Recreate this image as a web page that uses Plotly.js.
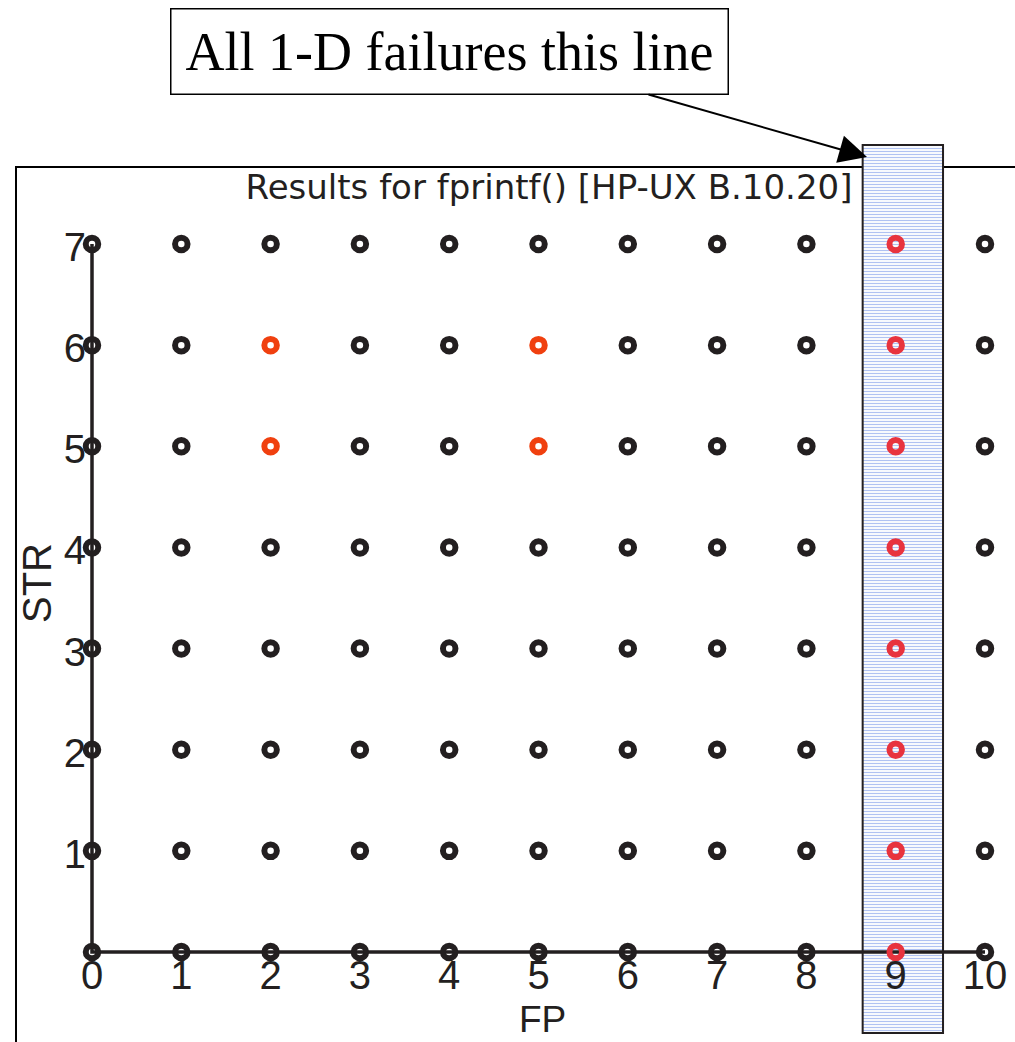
<!DOCTYPE html>
<html>
<head>
<meta charset="utf-8">
<script src="https://cdn.plot.ly/plotly-3.0.1.min.js"></script>
<style>html,body{margin:0;padding:0;background:#fff;}</style>
</head>
<body>
<div id="chart" style="width:1015px;height:1042px;"></div>
<script>
// ---- data ----
const fpValues = [0, 1, 2, 3, 4, 5, 6, 7, 8, 9, 10];
const strValues = [0, 1, 2, 3, 4, 5, 6, 7];
const xTickLabels = ['0', '1', '2', '3', '4', '5', '6', '7', '8', '9', '10'];
const yTickValues = [1, 2, 3, 4, 5, 6, 7];
const yTickLabels = ['1', '2', '3', '4', '5', '6', '7'];
const failFP2D = [2, 2, 5, 5];
const failSTR2D = [5, 6, 5, 6];
const failFP1D = 9;
const chartTitle = 'Results for fprintf() [HP-UX B.10.20]';
const xTitle = 'FP';
const yTitle = 'STR';
const calloutText = 'All 1-D failures this line';

// ---- build point groups ----
const okX = [], okY = [], f2X = [], f2Y = [], f1X = [], f1Y = [];
fpValues.forEach(fp => {
  strValues.forEach(s => {
    let is2D = false;
    for (let i = 0; i < failFP2D.length; i++) if (failFP2D[i] === fp && failSTR2D[i] === s) is2D = true;
    if (fp === failFP1D) { f1X.push(fp); f1Y.push(s); }
    else if (is2D) { f2X.push(fp); f2Y.push(s); }
    else { okX.push(fp); okY.push(s); }
  });
});

const ink = '#231f20';
const W = 1015, H = 1042;
const px2x = p => (p - 92) / 89.3;
const py2y = p => (952 - p) / 101.14;

const ring = (c) => ({ symbol: 'circle-open', size: 12.5, color: c, line: { width: 6, color: c } });

const traces = [
  { // shaded 1-D failure column
    type: 'bar', x: [failFP1D], y: [py2y(145) - py2y(1033)], base: [py2y(1033)],
    width: [0.9], offset: [-0.37],
    marker: { color: 'white', line: { color: ink, width: 2 },
      pattern: { shape: '-', fgcolor: '#b0c2f2', bgcolor: 'white', size: 3, solidity: 0.4 } },
    hoverinfo: 'skip', showlegend: false
  },
  { // axis lines
    type: 'scatter', mode: 'lines', x: [fpValues[fpValues.length - 1], 0, 0], y: [0, 0, strValues[strValues.length - 1]],
    line: { color: ink, width: 3.5 }, hoverinfo: 'skip', showlegend: false, cliponaxis: false
  },
  { type: 'scatter', mode: 'markers', x: okX, y: okY, marker: ring(ink), showlegend: false, cliponaxis: false },
  { type: 'scatter', mode: 'markers', x: f2X, y: f2Y, marker: ring('#f0400f'), showlegend: false, cliponaxis: false },
  { type: 'scatter', mode: 'markers', x: f1X, y: f1Y, marker: ring('#e8333e'), showlegend: false, cliponaxis: false }
];

const tickFont = { family: 'Liberation Sans, Arial, sans-serif', size: 40, color: ink };

const layout = {
  width: W, height: H,
  margin: { l: 0, r: 0, t: 0, b: 0, pad: 0 },
  paper_bgcolor: 'white', plot_bgcolor: 'white',
  showlegend: false,
  title: { text: chartTitle, x: 549 / W, y: 1 - 187 / H, xref: 'paper', yref: 'paper',
    xanchor: 'center', yanchor: 'middle',
    font: { family: 'DejaVu Sans, sans-serif', size: 34, color: ink } },
  xaxis: {
    range: [px2x(0), px2x(W)], anchor: 'free', position: (H - 952) / H,
    showgrid: false, zeroline: false, showline: false, ticks: '',
    tickmode: 'array', tickvals: fpValues, ticktext: xTickLabels,
    tickfont: tickFont, ticklabelstandoff: -4,
    fixedrange: true
  },
  yaxis: {
    range: [py2y(H), py2y(0)], anchor: 'free', position: 92 / W,
    showgrid: false, zeroline: false, showline: false, ticks: '',
    tickmode: 'array', tickvals: yTickValues, ticktext: yTickLabels,
    tickfont: tickFont, ticklabelstandoff: 6, ticklabelshift: 3,
    fixedrange: true
  },
  shapes: [
    { type: 'line', xref: 'paper', yref: 'paper', layer: 'below',
      x0: 15 / W, x1: 1, y0: 1 - 167 / H, y1: 1 - 167 / H, line: { color: '#000', width: 2 } },
    { type: 'line', xref: 'paper', yref: 'paper', layer: 'below',
      x0: 16 / W, x1: 16 / W, y0: 1 - 167 / H, y1: 0, line: { color: '#000', width: 2 } }
  ],
  annotations: [
    { text: xTitle, xref: 'paper', yref: 'paper', x: 542 / W, y: 0,
      xanchor: 'center', yanchor: 'bottom', showarrow: false,
      font: { family: 'Liberation Sans, Arial, sans-serif', size: 37, color: ink } },
    { text: yTitle, xref: 'paper', yref: 'paper', x: 37 / W, y: 1 - 583 / H,
      xanchor: 'center', yanchor: 'middle', showarrow: false, textangle: -90, font: tickFont },
    { text: calloutText, xref: 'paper', yref: 'paper', x: 449.5 / W, y: 1 - 51.5 / H,
      xanchor: 'center', yanchor: 'middle', showarrow: false,
      font: { family: 'Liberation Serif, Times New Roman, serif', size: 54, color: '#000' },
      bgcolor: 'white', bordercolor: '#000', borderwidth: 1.5, borderpad: 0,
      width: 556, height: 84 },
    { text: '', xref: 'paper', yref: 'paper', x: 867 / W, y: 1 - 157 / H,
      showarrow: true, axref: 'pixel', ayref: 'pixel', ax: 647 - 867, ay: 94 - 157,
      arrowhead: 2, arrowsize: 2.8, arrowwidth: 2, arrowcolor: '#000', standoff: 0 }
  ]
};

Plotly.newPlot('chart', traces, layout, { displayModeBar: false, staticPlot: true });
</script>
</body>
</html>
